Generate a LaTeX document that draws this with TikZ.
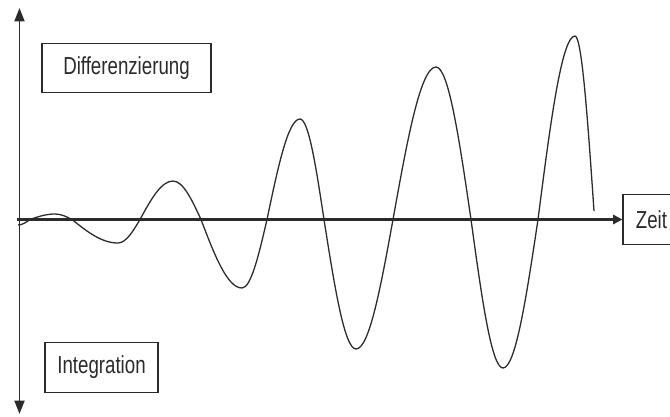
\documentclass[tikz,border=0pt]{standalone}
\usepackage{fontspec}
\setmainfont{Liberation Sans}
\usepackage{graphicx}
\usepackage{xcolor}
\definecolor{Ink}{HTML}{2B2B2B}
\usepackage{tikz}
\usetikzlibrary{arrows.meta}
\newcommand{\narrowtext}[1]{\scalebox{0.76}[1]{#1}}
\tikzset{
  labelbox/.style={
    rectangle, draw=Ink, line width=1.1pt,
    minimum width=#1, minimum height=1.48cm,
    inner sep=0pt, font=\fontsize{21}{24}\selectfont, text=Ink
  },
  labelbox/.default=3.4cm,
  vArr/.style={{Triangle[length=0.4cm, width=0.3cm]}-{Triangle[length=0.4cm, width=0.3cm]}, line width=1.6pt, color=Ink},
  hArr/.style={-{Triangle[length=0.28cm, width=0.28cm]}, line width=1.8pt, color=Ink},
  wave/.style={line width=1.1pt, color=Ink},
}

\begin{document}
\begin{tikzpicture}[x=0.03cm, y=-0.03cm]
\useasboundingbox (0,0) rectangle (670,416);

\node[labelbox=5.07cm] at (126.5,68) (diff) {\narrowtext{Differenzierung}};
\node[labelbox=3.39cm] at (101.5,367.5) (integ) {\narrowtext{Integration}};
\node[labelbox=1.71cm] at (651.5,219.5) (zeit) {\narrowtext{Zeit}};

\coordinate (top) at (19.5,8);
\coordinate (bottom) at (19.5,414);
\coordinate (origin) at (17,219.5);

% axes
\draw[vArr] (bottom) -- (top);
\draw[hArr] (origin) -- (zeit.west);

% growing oscillation
\draw[wave] (18,225) cos (30,219.5) sin (55,214) cos (72,219.5)
  sin (118,243) cos (140,219.5) sin (173,181) cos (201,219.5)
  sin (242,288) cos (267,219.5) sin (300,119) cos (324,219.5)
  sin (356,349) cos (393,219.5) sin (436,67) cos (471,219.5)
  sin (503,368) cos (538,219.5) sin (575,36) cos (594,211);

\end{tikzpicture}
\end{document}
